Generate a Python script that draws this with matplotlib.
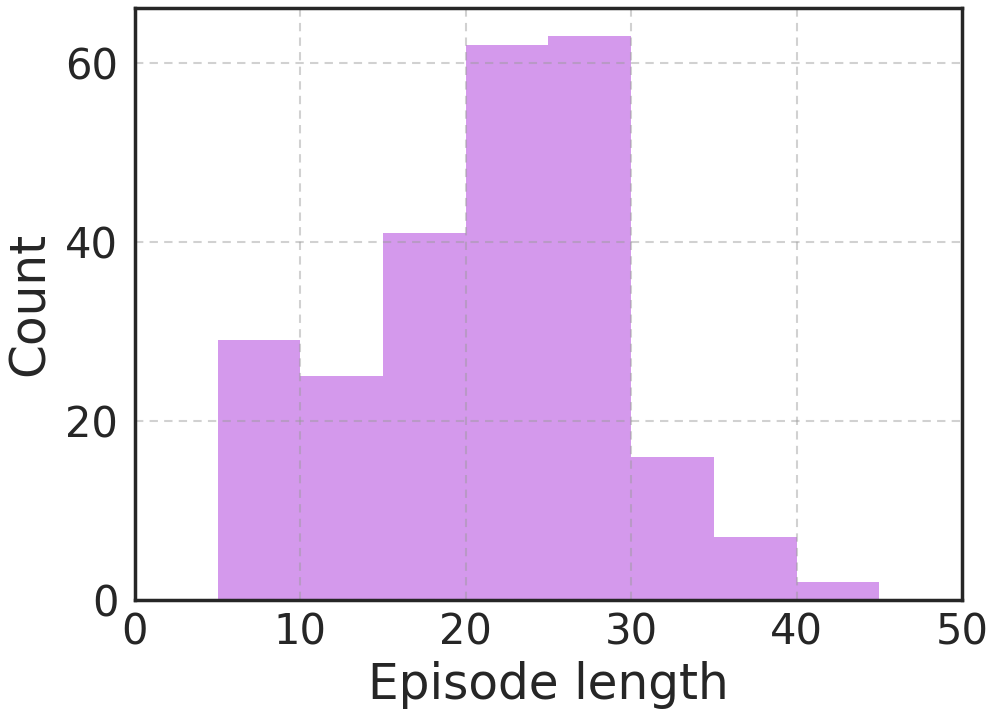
import numpy as np
import matplotlib
matplotlib.use("Agg")
import matplotlib.pyplot as plt

# histogram of episode lengths (bins of 5 steps)
bin_edges = [5, 10, 15, 20, 25, 30, 35, 40, 45]
counts = [29, 25, 41, 62, 63, 16, 7, 2]

fig = plt.figure(figsize=(9.97, 7.24), dpi=100)
ax = fig.add_axes([0.1354, 0.1713, 0.8295, 0.8177])

ax.hist(bin_edges[:-1], bins=bin_edges, weights=counts,
        color="#d499ec", edgecolor="none")

ax.set_xlim(0, 50)
ax.set_ylim(0, max(counts) * 1.05)
ax.set_xticks([0, 10, 20, 30, 40, 50])
ax.set_yticks([0, 20, 40, 60])

ax.set_axisbelow(False)
ax.grid(True, linestyle=(0, (4, 3)), color="#999999", alpha=0.45, linewidth=1.5)

for sp in ax.spines.values():
    sp.set_color("#262626")
    sp.set_linewidth(2.5)
    sp.set_zorder(3)

ax.tick_params(axis="y", length=0, labelsize=30, colors="#262626", pad=12)
ax.tick_params(axis="x", length=0, labelsize=30, colors="#262626", pad=8)
ax.set_xlabel("Episode length", fontsize=35, color="#262626", labelpad=6)
ax.set_ylabel("Count", fontsize=35, color="#262626", labelpad=8)

fig.savefig("out.png", dpi=100)
